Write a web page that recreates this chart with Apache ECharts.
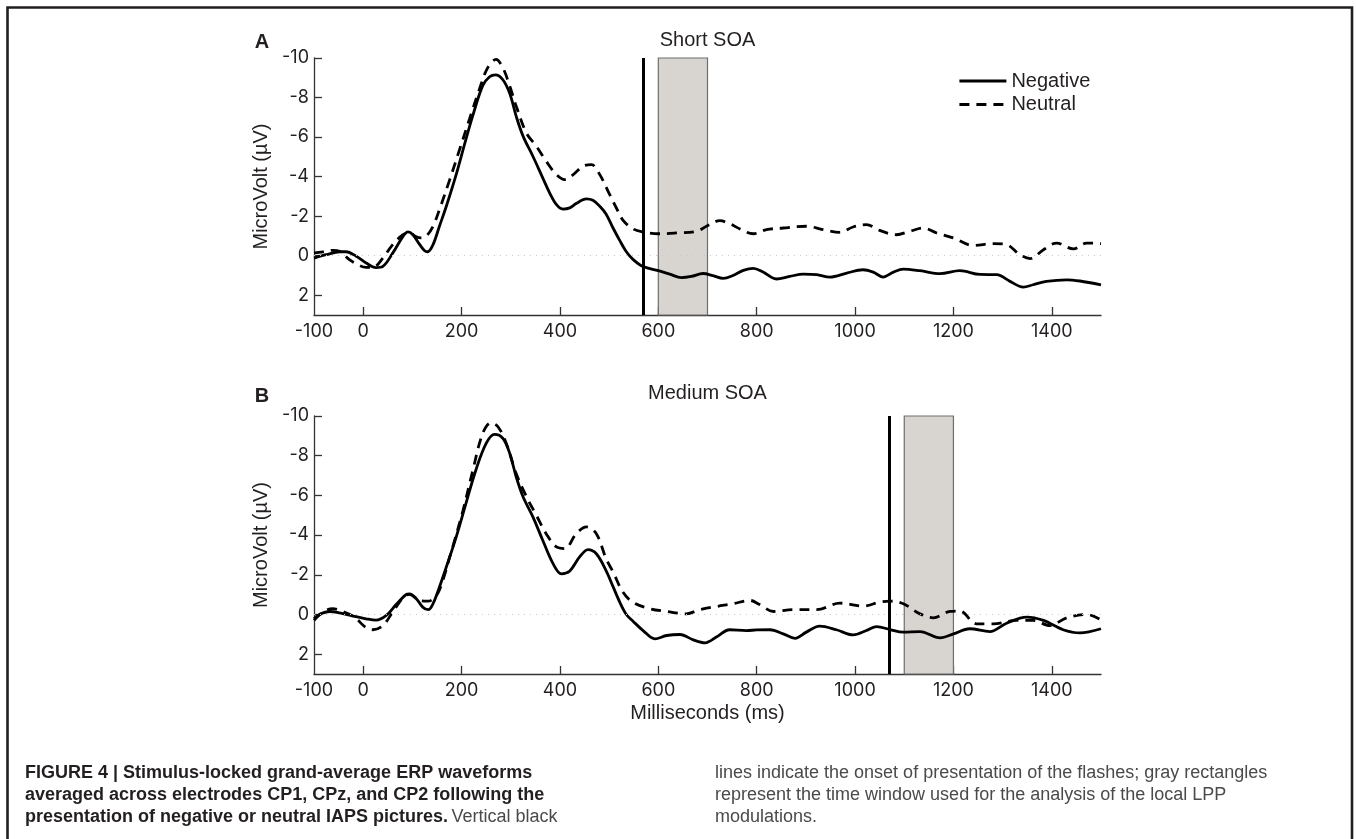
<!DOCTYPE html>
<html>
<head>
<meta charset="utf-8">
<script src="https://cdn.jsdelivr.net/npm/echarts@6/dist/echarts.min.js"></script>
<style>
  html, body { margin: 0; padding: 0; background: #fff; }
  #chart { width: 1356px; height: 839px; }
</style>
</head>
<body>
<div id="chart"></div>
<script>
// ---------- data (time in ms, amplitude in µV) ----------
const xLabelValues = [-100, 0, 200, 400, 600, 800, 1000, 1200, 1400];
const xTickValues = [0, 200, 400, 600, 800, 1000, 1200, 1400];
const yTickValues = [-10, -8, -6, -4, -2, 0, 2];
const panelTitles = ['Short SOA', 'Medium SOA'];
const panelLetters = ['A', 'B'];
const flashOnsets = [570, 1070];
const lppWindows = [[600, 700], [1100, 1200]];

const shortNegative = [[-100,0.12],[-75,-0.05],[-48,-0.2],[-35,-0.2],[-14,0.03],[6,0.37],[26,0.6],[40,0.54],[60,-0.13],[81,-0.98],[91,-1.2],[101,-1.06],[115,-0.56],[125,-0.25],[131,-0.2],[142,-0.56],[155,-1.49],[169,-2.5],[189,-4.1],[209,-5.9],[223,-7.1],[243,-8.6],[257,-9.05],[269,-9.15],[284,-8.9],[298,-8.2],[311,-7.06],[325,-6.05],[345,-5.03],[365,-3.94],[379,-3.18],[393,-2.58],[406,-2.36],[420,-2.42],[433,-2.64],[454,-2.87],[467,-2.8],[481,-2.5],[494,-2.1],[508,-1.4],[522,-0.75],[535,-0.2],[549,0.2],[569,0.55],[600,0.76],[623,0.93],[647,1.11],[667,1.05],[691,0.9],[711,1.01],[732,1.15],[752,1.0],[773,0.74],[793,0.64],[813,0.83],[840,1.18],[867,1.05],[895,0.93],[922,0.96],[949,1.08],[983,0.88],[1016,0.71],[1037,0.83],[1057,1.08],[1078,0.83],[1098,0.68],[1132,0.76],[1173,0.91],[1213,0.76],[1254,0.95],[1288,0.96],[1315,1.3],[1342,1.59],[1362,1.47],[1389,1.3],[1430,1.22],[1457,1.28],[1500,1.47]];

const shortNeutral = [[-100,-0.14],[-82,-0.19],[-62,-0.27],[-48,-0.22],[-28,0.2],[-14,0.41],[6,0.59],[20,0.59],[40,0.12],[60,-0.56],[81,-1.06],[94,-1.15],[108,-0.95],[118,-0.9],[128,-0.98],[142,-1.49],[155,-2.33],[176,-3.85],[196,-5.37],[216,-6.9],[236,-8.4],[253,-9.5],[270,-9.93],[284,-9.5],[298,-8.58],[311,-7.57],[332,-6.2],[352,-5.54],[372,-4.78],[393,-4.1],[410,-3.85],[427,-4.1],[447,-4.53],[464,-4.61],[481,-4.1],[501,-3.1],[515,-2.4],[528,-1.8],[549,-1.35],[569,-1.2],[600,-1.11],[637,-1.15],[678,-1.23],[698,-1.49],[725,-1.77],[745,-1.62],[766,-1.35],[793,-1.11],[820,-1.32],[854,-1.4],[901,-1.49],[935,-1.32],[969,-1.18],[996,-1.45],[1023,-1.57],[1050,-1.28],[1084,-1.06],[1111,-1.23],[1139,-1.4],[1166,-1.15],[1200,-0.9],[1240,-0.52],[1281,-0.61],[1308,-0.56],[1335,-0.05],[1356,0.15],[1383,-0.3],[1410,-0.64],[1444,-0.34],[1471,-0.64],[1500,-0.61]];

const mediumNegative = [[-100,0.22],[-89,0],[-68,-0.15],[-48,-0.08],[-21,0.08],[6,0.22],[26,0.29],[47,0.05],[67,-0.5],[87,-1.0],[94,-1.04],[108,-0.79],[121,-0.37],[132,-0.24],[142,-0.54],[155,-1.38],[169,-2.39],[189,-3.9],[209,-5.6],[229,-7.27],[250,-8.62],[267,-9.07],[284,-8.87],[298,-8.11],[311,-6.94],[325,-5.93],[345,-4.92],[365,-3.74],[386,-2.56],[403,-2.05],[420,-2.19],[440,-2.9],[457,-3.27],[474,-3.06],[494,-2.2],[508,-1.4],[522,-0.6],[535,0.0],[549,0.35],[569,0.81],[593,1.23],[617,1.06],[644,1.01],[671,1.28],[695,1.43],[718,1.14],[745,0.77],[779,0.81],[800,0.78],[827,0.77],[854,0.98],[878,1.2],[901,0.89],[928,0.59],[962,0.77],[996,1.03],[1023,0.81],[1044,0.61],[1071,0.76],[1098,0.89],[1132,0.86],[1173,1.18],[1200,0.98],[1233,0.72],[1274,0.86],[1308,0.44],[1349,0.13],[1383,0.3],[1423,0.77],[1457,0.93],[1500,0.72]];

const mediumNeutral = [[-100,0.3],[-82,-0.12],[-62,-0.29],[-41,-0.15],[-18,0.13],[6,0.67],[20,0.77],[40,0.56],[60,-0.12],[81,-0.84],[94,-1.01],[115,-0.71],[132,-0.67],[149,-0.96],[162,-1.72],[176,-2.9],[182,-3.4],[203,-5.25],[223,-7.27],[243,-9.12],[260,-9.66],[274,-9.46],[291,-8.62],[311,-7.1],[332,-5.93],[352,-5.0],[372,-4.07],[393,-3.4],[410,-3.32],[433,-4.07],[454,-4.41],[474,-4.07],[494,-2.8],[508,-2.14],[528,-1.13],[549,-0.6],[583,-0.29],[617,-0.15],[657,-0.03],[684,-0.24],[718,-0.4],[752,-0.54],[786,-0.71],[806,-0.5],[834,-0.15],[874,-0.24],[922,-0.24],[969,-0.57],[1017,-0.42],[1050,-0.62],[1071,-0.67],[1098,-0.54],[1132,-0.03],[1159,0.17],[1193,-0.15],[1213,-0.17],[1247,0.47],[1281,0.47],[1328,0.3],[1362,0.3],[1396,0.56],[1430,0.17],[1471,0],[1500,0.27]];

const captionBold = [
  'FIGURE 4 | Stimulus-locked grand-average ERP waveforms',
  'averaged across electrodes CP1, CPz, and CP2 following the',
  'presentation of negative or neutral IAPS pictures.'
];
const captionTail = 'Vertical black';
const captionRight = [
  'lines indicate the onset of presentation of the flashes; gray rectangles',
  'represent the time window used for the analysis of the local LPP',
  'modulations.'
];

// ---------- styling ----------
const INK = '#231f20';
const FONT = '"Liberation Sans", Arial, Helvetica, sans-serif';
const TICKFONT = 'Inter, "Liberation Sans", Arial, sans-serif';

const grids = [
  { left: 314, top: 58, width: 787, height: 257 },
  { left: 314, top: 416, width: 787, height: 258 }
];

function plain(v) { return String(v); }

function xAxis(i) {
  const ax = {
    type: 'value', gridIndex: i, min: -100, max: 1500,
    axisLine: { show: true, onZero: false, lineStyle: { color: '#333', width: 1.3 } },
    axisTick: { show: true, inside: true, length: 8, customValues: xTickValues, lineStyle: { color: '#333', width: 1.3 } },
    axisLabel: { customValues: xLabelValues, formatter: plain, margin: 8, color: INK, fontSize: 18, fontFamily: TICKFONT },
    splitLine: { show: false }
  };
  if (i === 1) {
    ax.name = 'Milliseconds (ms)';
    ax.nameLocation = 'middle';
    ax.nameGap = 29;
    ax.nameTextStyle = { color: INK, fontSize: 20, fontFamily: FONT };
  }
  return ax;
}
function yAxis(i) {
  return {
    type: 'value', gridIndex: i, min: -10, max: 3, inverse: true,
    name: 'MicroVolt (µV)', nameLocation: 'middle', nameGap: 39,
    nameTextStyle: { color: INK, fontSize: 20, fontFamily: FONT },
    axisLine: { show: true, onZero: false, lineStyle: { color: '#333', width: 1.3 } },
    axisTick: { show: true, inside: true, length: 8, customValues: yTickValues, lineStyle: { color: '#333', width: 1.3 } },
    axisLabel: { customValues: yTickValues, formatter: plain, margin: 5, color: INK, fontSize: 18, fontFamily: TICKFONT },
    splitLine: { show: false }
  };
}

function curve(name, data, i, dashed) {
  return {
    name: name, type: 'line', xAxisIndex: i, yAxisIndex: i, data: data,
    symbol: 'none', showSymbol: false, smooth: 0.35, z: 3,
    lineStyle: { color: '#000', width: 2.8, type: dashed ? [10, 7] : 'solid', cap: 'butt' },
    itemStyle: { color: '#000' }
  };
}
function marks(i) {
  return {
    name: 'marks' + i, type: 'line', xAxisIndex: i, yAxisIndex: i, data: [], z: 1, silent: true,
    markArea: {
      silent: true,
      itemStyle: { color: '#d8d4cf', borderColor: '#6e6e6e', borderWidth: 1.2 },
      data: [[{ xAxis: lppWindows[i][0], yAxis: -10 }, { xAxis: lppWindows[i][1], yAxis: 3 }]]
    },
    markLine: {
      silent: true, symbol: 'none', label: { show: false },
      data: [
        { yAxis: 0, lineStyle: { color: '#c8c8c8', width: 1, type: [1, 5] } },
        { xAxis: flashOnsets[i], lineStyle: { color: '#000', width: 3, type: 'solid' } }
      ]
    }
  };
}

const graphics = [
  { type: 'rect', shape: { x: 7.5, y: 7.5, width: 1344.5, height: 1000 }, style: { fill: 'none', stroke: INK, lineWidth: 2.6 }, silent: true },
  { type: 'text', style: { text: panelLetters[0], x: 262, y: 42, textAlign: 'center', textVerticalAlign: 'middle', font: 'bold 20px ' + FONT, fill: INK } },
  { type: 'text', style: { text: panelLetters[1], x: 262, y: 396, textAlign: 'center', textVerticalAlign: 'middle', font: 'bold 20px ' + FONT, fill: INK } },
  { type: 'text', style: { text: panelTitles[0], x: 707.5, y: 40, textAlign: 'center', textVerticalAlign: 'middle', font: '20px ' + FONT, fill: INK } },
  { type: 'text', style: { text: panelTitles[1], x: 707.5, y: 393, textAlign: 'center', textVerticalAlign: 'middle', font: '20px ' + FONT, fill: INK } }
];
const capY = [773, 795, 817];
captionBold.forEach(function (t, k) {
  if (k < 2) {
    graphics.push({ type: 'text', style: { text: t, x: 25, y: capY[k], textVerticalAlign: 'middle', font: 'bold 18px ' + FONT, fill: INK } });
  } else {
    graphics.push({ type: 'text', style: {
      text: '{b|' + t + '} {r|' + captionTail + '}', x: 25, y: capY[k], textVerticalAlign: 'middle',
      rich: { b: { font: 'bold 18px ' + FONT, fill: INK }, r: { font: '18px ' + FONT, fill: '#4a4a4a' } }
    } });
  }
});
captionRight.forEach(function (t, k) {
  graphics.push({ type: 'text', style: { text: t, x: 715, y: capY[k], textVerticalAlign: 'middle', font: '18px ' + FONT, fill: '#4a4a4a' } });
});

const chart = echarts.init(document.getElementById('chart'), null, { renderer: 'canvas' });
chart.setOption({
  animation: false,
  backgroundColor: '#fff',
  grid: grids,
  xAxis: [xAxis(0), xAxis(1)],
  yAxis: [yAxis(0), yAxis(1)],
  legend: {
    data: ['Negative', 'Neutral'], orient: 'vertical', left: 958, top: 71, padding: 0,
    itemWidth: 47, itemHeight: 14, itemGap: 3.5, selectedMode: false,
    itemStyle: { opacity: 0 },
    lineStyle: { width: 2.8 },
    textStyle: { color: INK, fontSize: 20, fontFamily: FONT, lineHeight: 20 }
  },
  series: [
    marks(0), marks(1),
    curve('Negative', shortNegative, 0, false),
    curve('Neutral', shortNeutral, 0, true),
    curve('Negative', mediumNegative, 1, false),
    curve('Neutral', mediumNeutral, 1, true)
  ],
  graphic: graphics
});
</script>
</body>
</html>
